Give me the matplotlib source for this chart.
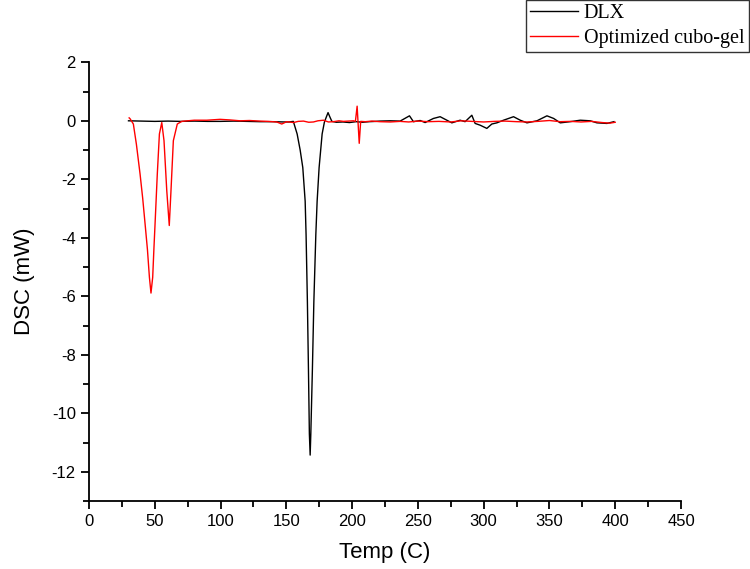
import matplotlib
matplotlib.use("Agg")
import matplotlib.pyplot as plt
from matplotlib.ticker import MultipleLocator

# DLX trace (temperature in C, heat flow in mW)
dlx_t = [30, 40, 50, 60, 70, 80, 90, 100, 110, 120,
         130, 140, 148, 152, 155.3, 158.2, 160.5, 162.5, 164.3, 165,
         166, 166.8, 167.5, 168.1, 168.6, 169.8, 170.9, 172.4, 173.4, 174.9,
         177.2, 178.9, 180.3, 181.7, 183.2, 184.6, 188, 193, 198, 203,
         208, 213, 218, 221, 229, 236.5, 243.6, 246.6, 251.7, 255.5,
         261.8, 266.9, 272, 275.8, 282.1, 285.9, 291, 293.5, 297.3, 302.4,
         306.2, 310, 315.1, 318.9, 322.7, 327.8, 332.9, 340.5, 348.1, 353.2,
         358.2, 365.8, 373.4, 381, 386.1, 393.7, 399]
dlx_dsc = [0.0, -0.01, -0.02, -0.01, -0.02, -0.01, -0.02, -0.02, -0.01, -0.02,
           -0.03, -0.03, -0.04, -0.04, -0.02, -0.45, -1.0, -1.6, -2.75, -3.9,
           -6.2, -8.5, -10.7, -11.43, -10.7, -8.5, -6.2, -3.9, -2.75, -1.6,
           -0.45, -0.05, 0.12, 0.28, 0.12, -0.02, -0.05, -0.04, -0.06, -0.03,
           -0.05, -0.03, -0.02, -0.01, 0.0, -0.01, 0.17, -0.03, 0.01, -0.06,
           0.08, 0.14, 0.02, -0.07, 0.02, -0.03, 0.19, -0.09, -0.15, -0.26,
           -0.11, -0.07, 0.02, 0.08, 0.14, 0.02, -0.07, 0.0, 0.17, 0.08,
           -0.07, -0.03, 0.02, 0.0, -0.07, -0.09, -0.03]

# optimized cubo-gel trace
cubo_t = [30.5, 31.2, 33.7, 36, 38.8, 40.8, 42.6, 44.4, 45.9, 47.1,
          48.4, 49.3, 50.2, 51.9, 53.5, 55.3, 57, 59.1, 61, 62.3,
          64.1, 67.1, 70.5, 75, 80, 89.5, 99.6, 107, 114.8, 122,
          130, 136, 142.7, 146.5, 150.3, 155.4, 159, 163, 167, 170.6,
          174, 178.2, 182, 185.8, 190, 193.4, 197, 201, 202.5, 203.8,
          205.4, 206.5, 210, 215, 221, 229, 236.5, 243, 250, 258,
          266, 275, 283, 291, 300, 308, 316, 325, 333, 341,
          350, 358, 366, 374, 382, 390, 396, 400]
cubo_dsc = [0.1, 0.07, -0.11, -0.8, -1.82, -2.65, -3.52, -4.4, -5.35, -5.89,
            -5.35, -4.4, -3.52, -1.82, -0.45, -0.06, -0.68, -2.39, -3.58, -2.39,
            -0.68, -0.11, -0.02, 0.0, 0.02, 0.02, 0.05, 0.03, 0.0, 0.01,
            -0.01, -0.02, -0.04, -0.11, -0.03, -0.06, -0.02, -0.01, -0.05, -0.04,
            0.0, 0.02, -0.04, -0.03, 0.0, -0.02, -0.01, 0.0, -0.02, 0.5,
            -0.77, -0.02, -0.03, -0.01, -0.03, -0.04, -0.02, -0.04, -0.01, -0.03,
            -0.02, -0.04, 0.0, -0.02, -0.04, -0.02, -0.01, -0.03, -0.04, -0.02,
            0.01, -0.03, -0.02, -0.04, -0.02, -0.06, -0.08, -0.05]

plt.rcParams['font.family'] = ['Liberation Sans', 'DejaVu Sans']
plt.rcParams['axes.unicode_minus'] = False

fig = plt.figure(figsize=(7.5, 5.69), dpi=100)
ax = fig.add_axes([0.1187, 0.1195, 0.908 - 0.1187, 0.8905 - 0.1195])

ax.plot(dlx_t, dlx_dsc, color='black', lw=1.0, label='DLX')
ax.plot(cubo_t, cubo_dsc, color='red', lw=1.0, label='Optimized cubo-gel')

ax.set_xlim(0, 450)
ax.set_ylim(-13, 2)
ax.xaxis.set_major_locator(MultipleLocator(50))
ax.xaxis.set_minor_locator(MultipleLocator(25))
ax.yaxis.set_major_locator(MultipleLocator(2))
ax.yaxis.set_minor_locator(MultipleLocator(1))

ax.spines['top'].set_visible(False)
ax.spines['right'].set_visible(False)
for s in ['left', 'bottom']:
    ax.spines[s].set_linewidth(1.3)
ax.tick_params(which='major', direction='out', length=6, width=1.3, labelsize=12)
ax.tick_params(which='minor', direction='out', length=4, width=1.3)

ax.set_xlabel('Temp (C)', fontsize=16, labelpad=9)
ax.set_ylabel('DSC (mW)', fontsize=16, labelpad=12)

leg = fig.legend(loc='upper right', bbox_to_anchor=(0.998, 1.0),
                 bbox_transform=fig.transFigure, frameon=True, fancybox=False,
                 borderaxespad=0, handlelength=2.35, handletextpad=0.3,
                 borderpad=0.2, labelspacing=0.3,
                 prop={'family': 'Liberation Serif', 'size': 14.5})
leg.get_frame().set_edgecolor('black')
leg.get_frame().set_linewidth(1.0)

fig.savefig('out.png', dpi=100)
